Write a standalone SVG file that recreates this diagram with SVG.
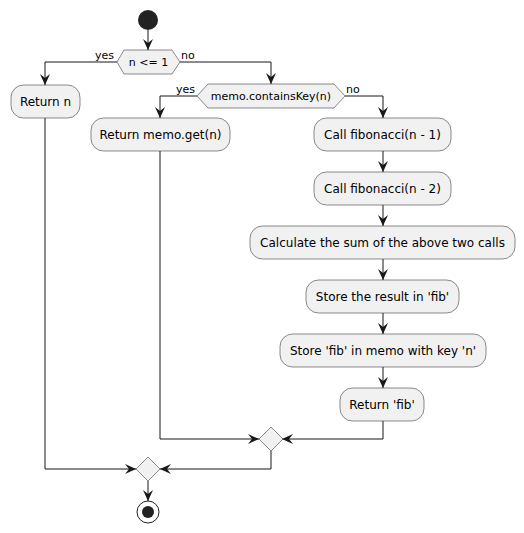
<svg xmlns="http://www.w3.org/2000/svg" width="524" height="533" viewBox="0 0 524 533">
<defs>
<style>
.box{fill:#F1F1F1;stroke:#181818;stroke-width:0.5}
.t{font-family:"DejaVu Sans",sans-serif;font-size:12px;fill:#000;text-anchor:middle}
.lbl{font-family:"DejaVu Sans",sans-serif;font-size:11px;fill:#000}
.c{fill:none;stroke:#181818;stroke-width:1}
</style>
<marker id="ah" markerUnits="userSpaceOnUse" markerWidth="11" markerHeight="10" refX="11" refY="5" orient="auto" viewBox="0 0 11 10">
<path d="M0,0 L11,5 L0,10 L4,5 Z" fill="#181818"/>
</marker>
</defs>
<rect width="524" height="533" fill="#FFFFFF"/>
<g id="connectors">
<path class="c" d="M148,30 L148,50" marker-end="url(#ah)"/>
<path class="c" d="M117,62 L45,62 L45,85" marker-end="url(#ah)"/>
<path class="c" d="M180,62 L271,62 L271,84" marker-end="url(#ah)"/>
<path class="c" d="M197,96 L160,96 L160,118" marker-end="url(#ah)"/>
<path class="c" d="M345,96 L383,96 L383,118" marker-end="url(#ah)"/>
<path class="c" d="M383,151 L383,172" marker-end="url(#ah)"/>
<path class="c" d="M383,205 L383,226" marker-end="url(#ah)"/>
<path class="c" d="M383,259 L383,280" marker-end="url(#ah)"/>
<path class="c" d="M383,313 L383,334" marker-end="url(#ah)"/>
<path class="c" d="M383,367 L383,388" marker-end="url(#ah)"/>
<path class="c" d="M383,421 L383,439 L282,439" marker-end="url(#ah)"/>
<path class="c" d="M160,151 L160,439 L259,439" marker-end="url(#ah)"/>
<path class="c" d="M271,451 L271,469 L160,469" marker-end="url(#ah)"/>
<path class="c" d="M45,118 L45,469 L136,469" marker-end="url(#ah)"/>
<path class="c" d="M148,481 L148,501" marker-end="url(#ah)"/>
<text class="lbl" x="95" y="59">yes</text>
<text class="lbl" x="181" y="59">no</text>
<text class="lbl" x="176" y="93">yes</text>
<text class="lbl" x="346" y="93">no</text>
</g>
<g id="start"><circle cx="148" cy="20" r="10" fill="#222222"/></g>
<g id="dec1">
<polygon class="box" points="117,62 124,50 172,50 180,62 172,74 124,74"/>
<text class="lbl" x="148.5" y="66" text-anchor="middle">n &lt;= 1</text>
</g>
<g id="returnN">
<rect class="box" x="11" y="85" width="69" height="33" rx="12.5"/>
<text class="t" x="45.5" y="106">Return n</text>
</g>
<g id="dec2">
<polygon class="box" points="197,96 208,84 334,84 345,96 334,108 208,108"/>
<text class="lbl" x="271" y="100" text-anchor="middle">memo.containsKey(n)</text>
</g>
<g id="memoGet">
<rect class="box" x="91" y="118" width="139" height="33" rx="12.5"/>
<text class="t" x="160.5" y="139">Return memo.get(n)</text>
</g>
<g id="fib1">
<rect class="box" x="314" y="118" width="137" height="33" rx="12.5"/>
<text class="t" x="382.5" y="139">Call fibonacci(n - 1)</text>
</g>
<g id="fib2">
<rect class="box" x="314" y="172" width="137" height="33" rx="12.5"/>
<text class="t" x="382.5" y="193">Call fibonacci(n - 2)</text>
</g>
<g id="sum">
<rect class="box" x="250" y="226" width="265" height="33" rx="12.5"/>
<text class="t" x="382.5" y="247">Calculate the sum of the above two calls</text>
</g>
<g id="store">
<rect class="box" x="306" y="280" width="153" height="33" rx="12.5"/>
<text class="t" x="382.5" y="301">Store the result in 'fib'</text>
</g>
<g id="memoPut">
<rect class="box" x="280" y="334" width="206" height="33" rx="12.5"/>
<text class="t" x="383" y="355">Store 'fib' in memo with key 'n'</text>
</g>
<g id="returnFib">
<rect class="box" x="340" y="388" width="84" height="33" rx="12.5"/>
<text class="t" x="382" y="409">Return 'fib'</text>
</g>
<g id="merge1"><polygon class="box" points="271,427 283,439 271,451 259,439"/></g>
<g id="merge2"><polygon class="box" points="148,457 160,469 148,481 136,469"/></g>
<g id="end">
<circle cx="148" cy="512" r="11" fill="none" stroke="#222222" stroke-width="1"/>
<circle cx="148" cy="512" r="6" fill="#222222"/>
</g>
</svg>
